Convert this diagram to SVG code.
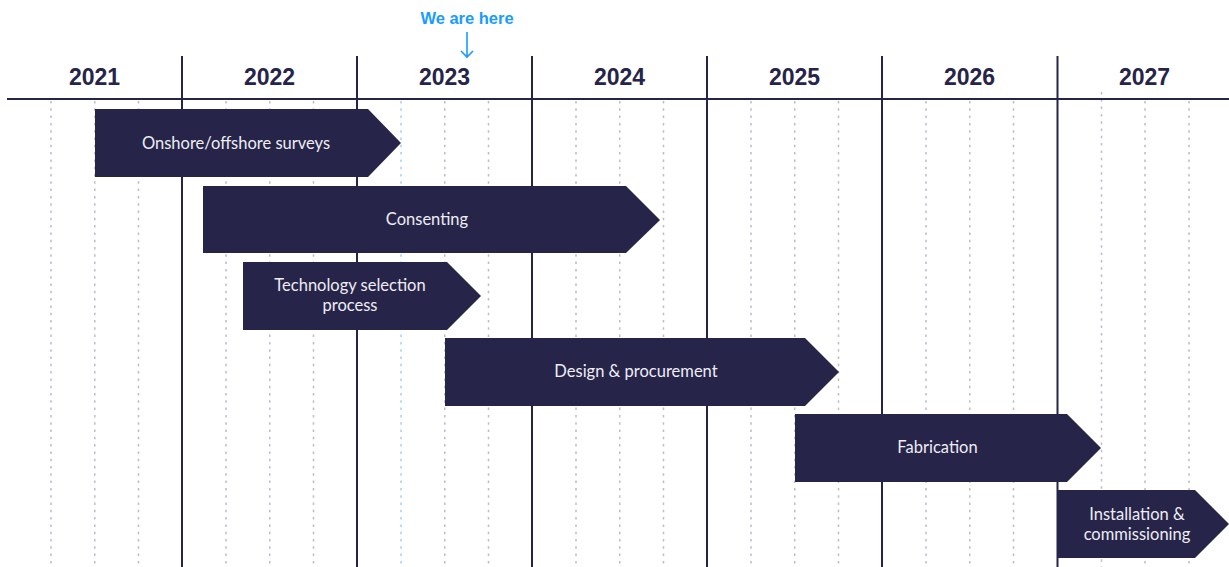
<svg xmlns="http://www.w3.org/2000/svg" width="1229" height="567" viewBox="0 0 1229 567">
<style>
.q{stroke:#bdbcc9;stroke-width:1.5;stroke-dasharray:2.5 4.8;fill:none}
.qb{stroke:#9fd3fa;stroke-width:1.5;stroke-dasharray:2.5 4.8;fill:none}
.yl{stroke:#262449;stroke-width:2;fill:none}
.yr{font-family:"Liberation Sans",Arial,sans-serif;font-weight:bold;font-size:23px;fill:#262449;text-anchor:middle}
.bar{fill:#262449}
.bt{font-family:Lato,"Noto Sans",sans-serif;font-size:16.5px;fill:#eeedf4;text-anchor:middle}
.here{font-family:"Liberation Sans",Arial,sans-serif;font-weight:bold;font-size:16.5px;fill:#1a9bff;text-anchor:middle}
</style>
<rect width="1229" height="567" fill="#ffffff"/>
<g id="grid">
<g>
<line class="q" x1="51" y1="101" x2="51" y2="567"/>
<line class="q" x1="94.75" y1="101" x2="94.75" y2="567"/>
<line class="q" x1="138.5" y1="101" x2="138.5" y2="567"/>
<line class="q" x1="226" y1="101" x2="226" y2="567"/>
<line class="q" x1="269.75" y1="101" x2="269.75" y2="567"/>
<line class="q" x1="313.5" y1="101" x2="313.5" y2="567"/>
<line class="qb" x1="401" y1="101" x2="401" y2="567"/>
<line class="q" x1="444.75" y1="101" x2="444.75" y2="567"/>
<line class="q" x1="488.5" y1="101" x2="488.5" y2="567"/>
<line class="q" x1="576" y1="101" x2="576" y2="567"/>
<line class="q" x1="619.75" y1="101" x2="619.75" y2="567"/>
<line class="q" x1="663.5" y1="101" x2="663.5" y2="567"/>
<line class="q" x1="751" y1="101" x2="751" y2="567"/>
<line class="q" x1="794.75" y1="101" x2="794.75" y2="567"/>
<line class="q" x1="838.5" y1="101" x2="838.5" y2="567"/>
<line class="q" x1="926" y1="101" x2="926" y2="567"/>
<line class="q" x1="969.75" y1="101" x2="969.75" y2="567"/>
<line class="q" x1="1013.5" y1="101" x2="1013.5" y2="567"/>
<line class="q" x1="1101.5" y1="92" x2="1101.5" y2="567"/>
<line class="q" x1="1145" y1="101" x2="1145" y2="567"/>
<line class="q" x1="1189" y1="101" x2="1189" y2="567"/>
</g>
<g>
<line class="yl" x1="182" y1="56" x2="182" y2="567"/>
<line class="yl" x1="357" y1="56" x2="357" y2="567"/>
<line class="yl" x1="532" y1="56" x2="532" y2="567"/>
<line class="yl" x1="707" y1="56" x2="707" y2="567"/>
<line class="yl" x1="882" y1="56" x2="882" y2="567"/>
<line class="yl" x1="1057.5" y1="56" x2="1057.5" y2="567"/>
</g>
<line class="yl" x1="7" y1="99" x2="1229" y2="99" stroke-width="2.5"/>
</g>
<g id="years">
<text class="yr" x="94.5" y="84.5">2021</text>
<text class="yr" x="269.5" y="84.5">2022</text>
<text class="yr" x="444.5" y="84.5">2023</text>
<text class="yr" x="619.5" y="84.5">2024</text>
<text class="yr" x="794.5" y="84.5">2025</text>
<text class="yr" x="969.5" y="84.5">2026</text>
<text class="yr" x="1144.5" y="84.5">2027</text>
</g>
<g id="we-are-here">
<text class="here" x="467" y="24">We are here</text>
<path d="M467 32 V57 M461 51 L467 57 L473 51" stroke="#1a9bff" stroke-width="1.6" fill="none"/>
</g>
<g id="surveys">
<polygon class="bar" points="95,109 368,109 401,143 368,177 95,177"/>
<text class="bt" x="236" y="148.5">Onshore/offshore surveys</text>
</g>
<g id="consenting">
<polygon class="bar" points="203,186 626,186 660,220 626,253 203,253"/>
<text class="bt" x="427" y="224.5">Consenting</text>
</g>
<g id="technology">
<polygon class="bar" points="243,262 447,262 481,296 447,330 243,330"/>
<text class="bt" x="350" y="290.5">Technology selection</text>
<text class="bt" x="350" y="310.5">process</text>
</g>
<g id="design">
<polygon class="bar" points="445,338 805,338 839,372 805,406 445,406"/>
<text class="bt" x="636" y="376.5">Design &amp; procurement</text>
</g>
<g id="fabrication">
<polygon class="bar" points="795,414 1067,414 1101,448 1067,482 795,482"/>
<text class="bt" x="937.5" y="452.5">Fabrication</text>
</g>
<g id="installation">
<polygon class="bar" points="1058,490 1195,490 1229,524 1195,558 1058,558"/>
<text class="bt" x="1137" y="519.5">Installation &amp;</text>
<text class="bt" x="1137" y="539.5">commissioning</text>
</g>
</svg>
